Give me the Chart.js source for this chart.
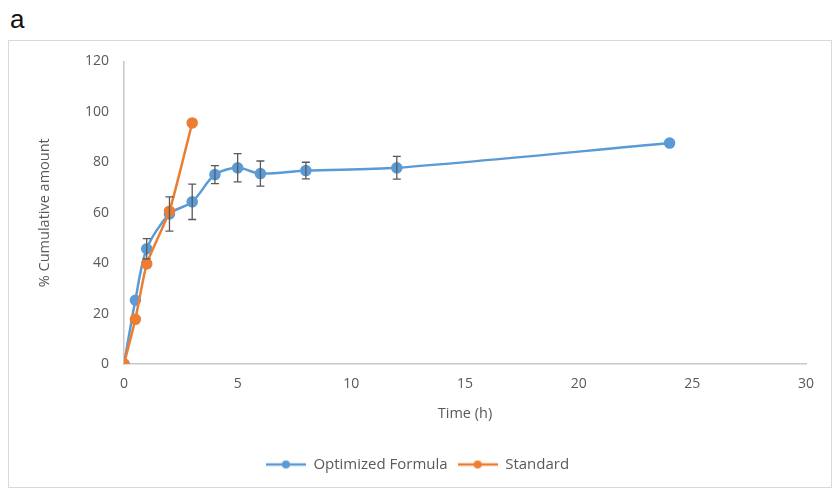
<!DOCTYPE html>
<html>
<head>
<meta charset="utf-8">
<script src="https://cdn.jsdelivr.net/npm/chart.js@4.4.1/dist/chart.umd.min.js"></script>
<style>
    body { margin: 0; background: #fff; width: 835px; height: 488px; position: relative; overflow: hidden; }
    #panel-label { position: absolute; left: 10px; top: 4px; font: 26px "Liberation Sans", Arial, sans-serif; color: #111; }
    #chart-box { position: absolute; left: 8px; top: 40px; width: 822px; height: 446px; border: 1px solid #d9d9d9; }
    #chart-inner { position: absolute; left: 0; top: -3px; width: 822px; height: 449px; }
</style>
</head>
<body>
<div id="panel-label">a</div>
<div id="chart-box"><div id="chart-inner"><canvas id="release-chart"></canvas></div></div>
<script>
// 시간(h)과 누적 방출량(%)
const optTimes = [0, 0.5, 1, 2, 3, 4, 5, 6, 8, 12, 24];
const optValues = [0, 25.3, 45.7, 59.5, 64.3, 75.1, 77.8, 75.5, 76.7, 77.8, 87.6];
const optErrors = [0, 0, 4, 6.8, 7, 3.6, 5.6, 5, 3.3, 4.5, 0];

const stdTimes = [0, 0.5, 1, 2, 3];
const stdValues = [0, 17.7, 39.7, 60.6, 95.6];

const xTicks = [0, 5, 10, 15, 20, 25, 30];
const yTicks = [0, 20, 40, 60, 80, 100, 120];

const BLUE = '#5b9bd5';
const ORANGE = '#ed7d31';
const TEXT = '#595959';
const FONT = '"Open Sans", "Liberation Sans", sans-serif';

function legendIcon(color) {
    const c = document.createElement('canvas');
    c.width = 40; c.height = 10;
    const g = c.getContext('2d');
    g.strokeStyle = color; g.lineWidth = 2.5;
    g.beginPath(); g.moveTo(0, 5); g.lineTo(40, 5); g.stroke();
    g.fillStyle = color;
    g.beginPath(); g.arc(20, 5, 4, 0, Math.PI * 2); g.fill();
    return c;
}

const errorBars = {
    id: 'errorBars',
    afterDatasetsDraw(chart) {
        const { ctx, scales: { x, y } } = chart;
        ctx.save();
        ctx.strokeStyle = '#595959';
        ctx.lineWidth = 1.3;
        optTimes.forEach((t, i) => {
            const e = optErrors[i];
            if (!e) return;
            const px = x.getPixelForValue(t);
            const top = y.getPixelForValue(optValues[i] + e);
            const bot = y.getPixelForValue(optValues[i] - e);
            ctx.beginPath();
            ctx.moveTo(px, top); ctx.lineTo(px, bot);
            ctx.moveTo(px - 4, top); ctx.lineTo(px + 4, top);
            ctx.moveTo(px - 4, bot); ctx.lineTo(px + 4, bot);
            ctx.stroke();
        });
        ctx.restore();
    }
};

const icons = [legendIcon(BLUE), legendIcon(ORANGE)];

new Chart(document.getElementById('release-chart'), {
    type: 'line',
    data: {
        datasets: [
            { label: 'Optimized Formula', data: optTimes.map((t, i) => ({ x: t, y: optValues[i] })), order: 1,
              borderColor: BLUE, backgroundColor: BLUE, borderWidth: 2.5, pointRadius: 4.5, pointHoverRadius: 4.5, tension: 0.3 },
            { label: 'Standard', data: stdTimes.map((t, i) => ({ x: t, y: stdValues[i] })), order: 0,
              borderColor: ORANGE, backgroundColor: ORANGE, borderWidth: 2.5, pointRadius: 4.5, pointHoverRadius: 4.5, tension: 0.15 }
        ]
    },
    options: {
        responsive: true, maintainAspectRatio: false, animation: false,
        layout: { padding: { left: 20, right: 25, top: 16, bottom: 5 } },
        plugins: {
            tooltip: { enabled: false },
            legend: {
                position: 'bottom',
                labels: {
                    usePointStyle: true, pointStyleWidth: 40, padding: 10,
                    color: TEXT, font: { family: FONT, size: 15 },
                    generateLabels(chart) {
                        const items = Chart.defaults.plugins.legend.labels.generateLabels(chart);
                        items.forEach(it => { it.pointStyle = icons[it.datasetIndex]; });
                        return items;
                    },
                    sort: (a, b) => a.datasetIndex - b.datasetIndex
                }
            }
        },
        scales: {
            x: {
                type: 'linear', min: 0, max: 30,
                afterBuildTicks: s => { s.ticks = xTicks.map(v => ({ value: v })); },
                afterFit: s => { s.height = 83; },
                grid: { display: false, drawTicks: false },
                border: { display: true, color: '#c8c8c8', width: 1.5 },
                ticks: { color: TEXT, font: { family: FONT, size: 14 }, padding: 12, maxRotation: 0 },
                title: { display: true, text: 'Time (h)', color: TEXT, font: { family: FONT, size: 14.5 }, padding: { bottom: 24 } }
            },
            y: {
                min: 0, max: 120,
                afterBuildTicks: s => { s.ticks = yTicks.map(v => ({ value: v })); },
                afterFit: s => { s.width = 95; },
                grid: { display: false, drawTicks: false },
                border: { display: true, color: '#c8c8c8', width: 1.5 },
                ticks: { color: TEXT, font: { family: FONT, size: 14 }, padding: 15 },
                title: { display: true, text: '% Cumulative amount', color: TEXT, font: { family: FONT, size: 14.5 }, padding: { top: 7 } }
            }
        }
    },
    plugins: [errorBars]
});
</script>
</body>
</html>
